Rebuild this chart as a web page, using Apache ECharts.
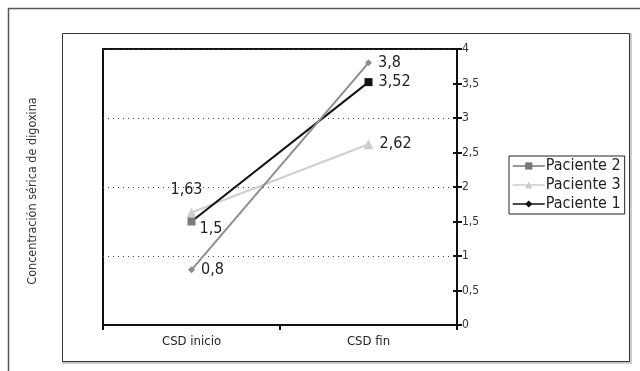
<!DOCTYPE html>
<html>
<head>
<meta charset="utf-8">
<script src="https://cdn.jsdelivr.net/npm/echarts@6/dist/echarts.min.js"></script>
<style>html,body{margin:0;padding:0;background:#fff}#c{width:640px;height:371px}</style>
</head>
<body>
<div id="c"></div>
<script>
var categories = ['CSD inicio', 'CSD fin'];
var paciente2 = [1.5, 3.52];
var paciente3 = [1.63, 2.62];
var paciente1 = [0.8, 3.8];
var yAxisTitle = 'Concentración sérica de digoxina';

var FONT = '"DejaVu Sans Condensed", sans-serif';
function fmt(v){ return String(v).replace('.', ','); }

var chart = echarts.init(document.getElementById('c'));
var labelBase = {show:true, position:'right', distance:6, fontFamily:FONT, fontSize:16, color:'#222', formatter:function(p){return fmt(p.value);}};

chart.setOption({
  animation:false,
  graphic:[
    {type:'rect', shape:{x:8.5,y:8.5,width:700,height:400}, style:{fill:null, stroke:'#555', lineWidth:1.5}, z:-10},
    {type:'rect', shape:{x:63,y:34,width:568,height:329}, style:{fill:null, stroke:'#bbb', lineWidth:1.5}, z:-11},
    {type:'rect', shape:{x:62.5,y:33.5,width:567,height:328}, style:{fill:'#fff', stroke:'#333', lineWidth:1}, z:-9},
    {type:'text', x:33, y:191, rotation:Math.PI/2, style:{text:yAxisTitle, fontFamily:FONT, fontSize:12.5, fill:'#333', textAlign:'center', textVerticalAlign:'middle'}}
  ],
  grid:{left:103, top:49, right:183, bottom:46, show:true, borderColor:'#111', borderWidth:2, containLabel:false},
  legend:{
    orient:'vertical', left:509, top:156, itemGap:3, itemWidth:32, itemHeight:9,
    borderColor:'#222', borderWidth:1, borderRadius:0, padding:[2,4,2,3],
    textStyle:{fontFamily:FONT, fontSize:16, color:'#222', padding:[0,0,0,-4]},
    data:[
      {name:'Paciente 2', itemStyle:{color:'#777'}, lineStyle:{color:'#777', width:1.5}},
      {name:'Paciente 3', itemStyle:{color:'#ccc'}, lineStyle:{color:'#ccc', width:1.5}},
      {name:'Paciente 1', itemStyle:{color:'#111'}, lineStyle:{color:'#111', width:1.5}}
    ]
  },
  xAxis:{
    type:'category', data:categories, boundaryGap:true,
    axisLine:{lineStyle:{color:'#111', width:2}},
    axisTick:{show:true, length:5, lineStyle:{color:'#111', width:2}},
    axisLabel:{fontFamily:FONT, fontSize:13, color:'#222', margin:10},
    splitLine:{show:false}
  },
  yAxis:[
    {type:'value', position:'right', min:0, max:4, interval:0.5,
     axisLine:{show:true, lineStyle:{color:'#111', width:2}},
     axisTick:{show:true, length:5, lineStyle:{color:'#111', width:2}},
     axisLabel:{fontFamily:FONT, fontSize:12, color:'#333', margin:5, formatter:fmt},
     splitLine:{show:false}},
    {type:'value', position:'right', min:0, max:4, interval:0.5,
     axisLine:{show:false},
     axisTick:{show:true, inside:true, length:4, lineStyle:{color:'#111', width:2}},
     axisLabel:{show:false}, splitLine:{show:false}},
    {type:'value', position:'right', min:0, max:4, interval:1,
     axisLine:{show:false}, axisTick:{show:false}, axisLabel:{show:false},
     splitLine:{show:true, lineStyle:{color:'#444', type:[1,4], width:1}}}
  ],
  series:[
    {name:'Paciente 2', type:'line', yAxisIndex:0, data:[
        {value:paciente2[0], itemStyle:{color:'#7a7a7a'}, label:{offset:[-2,7]}},
        {value:paciente2[1], itemStyle:{color:'#111'}}],
     symbol:'rect', symbolSize:8, lineStyle:{color:'#111', width:2}, itemStyle:{color:'#111'},
     label:labelBase, z:4},
    {name:'Paciente 3', type:'line', yAxisIndex:0, data:[
        {value:paciente3[0], label:{position:'top', offset:[-5,-4]}},
        {value:paciente3[1]}],
     symbol:'triangle', symbolSize:10, lineStyle:{color:'#cfcfcf', width:2}, itemStyle:{color:'#cfcfcf'},
     label:labelBase, z:3},
    {name:'Paciente 1', type:'line', yAxisIndex:0, data:[
        {value:paciente1[0]},
        {value:paciente1[1]}],
     symbol:'diamond', symbolSize:7, lineStyle:{color:'#8e8e8e', width:2}, itemStyle:{color:'#8e8e8e'},
     label:labelBase, z:5}
  ]
});
</script>
</body>
</html>
